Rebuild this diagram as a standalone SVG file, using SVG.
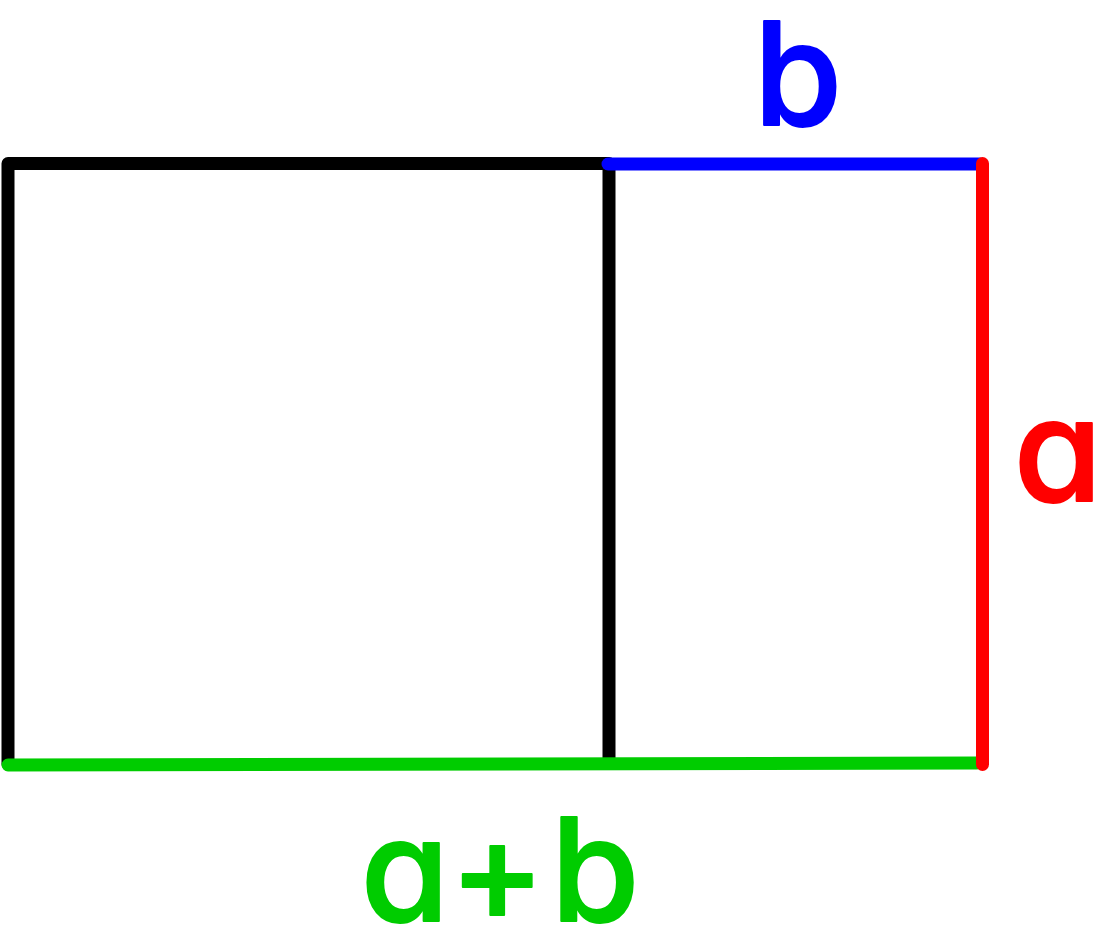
<svg xmlns="http://www.w3.org/2000/svg" width="1096" height="925" viewBox="0 0 1096 925">
<style>
.ln{fill:none;stroke-width:13;stroke-linecap:round;stroke-linejoin:round}
.lbl{font-family:Inter,"Liberation Sans",sans-serif;font-weight:500;font-size:143px;text-anchor:middle;font-feature-settings:"cv11" 1;stroke-width:2;stroke-linejoin:round}
</style>
<rect width="1096" height="925" fill="#ffffff"/>
<g id="edges">
<path id="black-square" class="ln" stroke="#000000" d="M8,764 L8,163.5 L609,163.5 M609,163.5 L609,763"/>
<path id="side-b" class="ln" stroke="#0000ff" d="M608,164 L980,164"/>
<path id="side-ab" class="ln" stroke="#00cc00" d="M8,765 L977,763"/>
<path id="side-a" class="ln" stroke="#ff0000" d="M982.5,163.5 L982.5,764.5"/>
</g>
<g id="label-b"><text class="lbl" x="798" y="124.5" fill="#0000ff" stroke="#0000ff">b</text></g>
<g id="label-a"><text class="lbl" x="1058" y="501" fill="#ff0000" stroke="#ff0000">a</text></g>
<g id="label-ab"><text class="lbl" x="503" y="920.5" fill="#00cc00" stroke="#00cc00" letter-spacing="6">a+b</text></g>
</svg>
